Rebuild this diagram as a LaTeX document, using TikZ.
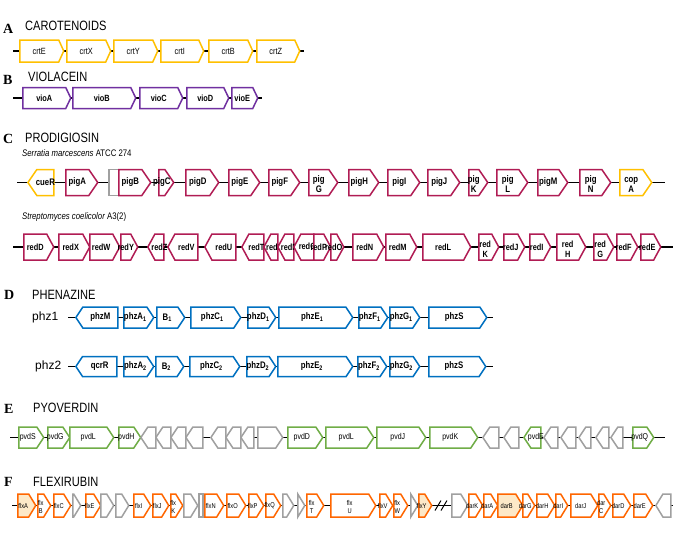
\documentclass[tikz,border=0pt]{standalone}
\usepackage{fontspec}
\setmainfont{Liberation Serif}
\newfontfamily\gsf[FakeStretch=0.82]{Liberation Sans}
\newfontfamily\psf{Liberation Sans}
\usetikzlibrary{shapes.symbols,positioning}

\definecolor{crtyel}{RGB}{255,192,0}
\definecolor{viopur}{RGB}{112,48,160}
\definecolor{pigred}{RGB}{176,28,84}
\definecolor{phzblue}{RGB}{0,112,192}
\definecolor{pvdgreen}{RGB}{112,173,71}
\definecolor{flxorange}{RGB}{255,102,0}
\definecolor{flxfill}{RGB}{253,233,200}
\definecolor{nogene}{RGB}{160,160,160}

\newcommand\twoline[2]{\smash{\begin{tabular}[t]{@{}c@{}}#1\\[0pt]#2\end{tabular}}}

\tikzset{
  gene/.style={signal, signal to=east, draw, fill=white, line width=1.5pt,
               inner sep=0pt, anchor=west,
               execute at begin node={\hbox to 0pt\bgroup\hss},
               execute at end node={\hss\egroup}},
  lft/.style={signal to=west},
  len/.style={minimum width=#1},
  bb/.style={line width=1.9pt, black},
  letter/.style={anchor=west, inner sep=0pt, font=\bfseries\fontsize{14}{16}\selectfont},
  title/.style={anchor=west, inner sep=0pt, font=\gsf\fontsize{13.5}{15}\selectfont},
  sub/.style={anchor=west, inner sep=0pt, font=\gsf\fontsize{9.5}{11}\selectfont}
}

\begin{document}
\begin{tikzpicture}[
    x=1pt, y=-1pt,
    crt/.style={gene, draw=crtyel, minimum height=22, signal pointer angle=131,
                font=\gsf\fontsize{9}{10}\selectfont},
    vio/.style={gene, draw=viopur, minimum height=21, signal pointer angle=129,
                font=\gsf\bfseries\fontsize{9}{10}\selectfont},
    pig/.style={gene, draw=pigred, minimum height=26, signal pointer angle=111,
                font=\gsf\bfseries\fontsize{9.5}{10}\selectfont},
    red/.style={gene, draw=pigred, minimum height=26, signal pointer angle=123,
                font=\gsf\bfseries\fontsize{9}{10}\selectfont},
    phz/.style={gene, draw=phzblue, minimum height=21, signal pointer angle=113,
                font=\gsf\bfseries\fontsize{9.5}{10}\selectfont},
    pvd/.style={gene, draw=pvdgreen, minimum height=21, signal pointer angle=113,
                font=\gsf\fontsize{8.5}{9}\selectfont},
    flx/.style={gene, draw=flxorange, minimum height=23, signal pointer angle=117,
                font=\gsf\fontsize{7}{7.5}\selectfont},
    nc/.style={draw=nogene}
  ]
    \useasboundingbox (0,0) rectangle (685,542);

    % A  carotenoids
    \node[letter] (lA) at (3,29) {A};
    \node[title] (tA) at (25,26) {CAROTENOIDS};
    \coordinate (A0) at (13,51);
    \coordinate (A1) at (304,51);
    \draw[bb] (A0) -- (A1);
    \node[crt, len=44] (crtE) at (19,51) {crtE};
    \node[crt, len=44] (crtX) at (66,51) {crtX};
    \node[crt, len=44] (crtY) at (113,51) {crtY};
    \node[crt, len=43] (crtI) at (160,51) {crtI};
    \node[crt, len=44] (crtB) at (208,51) {crtB};
    \node[crt, len=43] (crtZ) at (256,51) {crtZ};

    % B  violacein
    \node[letter] (lB) at (3,80) {B};
    \node[title] (tB) at (28,77) {VIOLACEIN};
    \coordinate (B0) at (13,98);
    \coordinate (B1) at (262,98);
    \draw[bb] (B0) -- (B1);
    \node[vio, len=48] (vioA) at (22,98) {vioA};
    \node[vio, len=63] (vioB) at (72,98) {vioB};
    \node[vio, len=43] (vioC) at (139,98) {vioC};
    \node[vio, len=42] (vioD) at (186,98) {vioD};
    \node[vio, len=26] (vioE) at (231,98) {vioE};

    % C  prodigiosin
    \node[letter] (lC) at (3,139) {C};
    \node[title] (tC) at (25,138) {PRODIGIOSIN};
    \node[sub] (sC1) at (22,153) {\itshape Serratia marcescens\upshape\ ATCC 274};
    \coordinate (C0) at (17,182.5);
    \coordinate (C1) at (665,182.5);
    \draw[bb] (C0) -- (C1);
    \node[pig, lft, draw=crtyel, len=26] (cueR) at (27,182.5) {cueR};
    \node[pig, len=32] (pigA) at (65,182.5) {pigA};
    \node[pig, nc, rectangle, len=16] (pigX) at (108,182.5) {};
    \node[pig, len=32] (pigB) at (118,182.5) {pigB};
    \node[pig, len=15] (pigC) at (158,182.5) {pigC};
    \node[pig, len=33] (pigD) at (185,182.5) {pigD};
    \node[pig, len=31] (pigE) at (228,182.5) {pigE};
    \node[pig, len=31] (pigF) at (268,182.5) {pigF};
    \node[pig, len=29] (pigG) at (308,182.5) {\twoline{pig}{G}};
    \node[pig, len=30] (pigH) at (348,182.5) {pigH};
    \node[pig, len=32] (pigI) at (387,182.5) {pigI};
    \node[pig, len=32] (pigJ) at (427,182.5) {pigJ};
    \node[pig, len=19] (pigK) at (468,182.5) {\twoline{pig}{K}};
    \node[pig, len=31] (pigL) at (496,182.5) {\twoline{pig}{L}};
    \node[pig, len=30] (pigM) at (537,182.5) {pigM};
    \node[pig, len=31] (pigN) at (579,182.5) {\twoline{pig}{N}};
    \node[pig, draw=crtyel, len=32] (copA) at (619,182.5) {\twoline{cop}{A}};

    \node[sub] (sC2) at (22,217) {\itshape Streptomyces coelicolor\upshape\ A3(2)};
    \coordinate (C2) at (13,247);
    \coordinate (C3) at (673,247);
    \draw[bb] (C2) -- (C3);
    \node[red, len=30] (redD) at (23,247) {redD};
    \node[red, len=31] (redX) at (58,247) {redX};
    \node[red, len=30] (redW) at (89,247) {redW};
    \node[red, len=17] (redY) at (120,247) {redY};
    \node[red, lft, len=16] (redZ) at (147,247) {redZ};
    \node[red, lft, len=30] (redV) at (167,247) {redV};
    \node[red, lft, len=31] (redU) at (204,247) {redU};
    \node[red, lft, len=22] (redT) at (241,247) {redT};
    \node[red, lft, len=14] (redS) at (263,247) {redS};
    \node[red, lft, len=16] (redR) at (277,247) {redR};
    \node[red, lft, len=20] (redQ) at (293,247) {redQ};
    \node[red, len=17] (redP) at (313,247) {redP};
    \node[red, len=13] (redO) at (330,247) {redO};
    \node[red, len=31] (redN) at (352,247) {redN};
    \node[red, len=31] (redM) at (385,247) {redM};
    \node[red, len=48] (redL) at (422,247) {redL};
    \node[red, len=20] (redK) at (478,247) {\twoline{red}{K}};
    \node[red, len=21] (redJ) at (503,247) {redJ};
    \node[red, len=21] (redI) at (529,247) {redI};
    \node[red, len=29] (redH) at (556,247) {\twoline{red}{H}};
    \node[red, len=20] (redG) at (593,247) {\twoline{red}{G}};
    \node[red, len=21] (redF) at (616,247) {redF};
    \node[red, len=20] (redE) at (640,247) {redE};

    % D  phenazine
    \node[letter] (lD) at (4,295) {D};
    \node[title] (tD) at (32,295) {PHENAZINE};
    \node[anchor=west, inner sep=0pt, font=\psf\fontsize{12}{14}\selectfont] (phz1) at (32,317.5) {phz1};
    \coordinate (D0) at (68,317.5);
    \coordinate (D1) at (493,317.5);
    \draw[bb] (D0) -- (D1);
    \node[phz, lft, len=42] (phzM) at (75,317.5) {phzM};
    \node[phz, len=30] (phzA1) at (123,317.5) {phzA\textsubscript{1}};
    \node[phz, len=28] (phzB1) at (156,317.5) {B\textsubscript{1}};
    \node[phz, len=50] (phzC1) at (190,317.5) {phzC\textsubscript{1}};
    \node[phz, len=28] (phzD1) at (247,317.5) {phzD\textsubscript{1}};
    \node[phz, len=74] (phzE1) at (278,317.5) {phzE\textsubscript{1}};
    \node[phz, len=29] (phzF1) at (358,317.5) {phzF\textsubscript{1}};
    \node[phz, len=30] (phzG1) at (389,317.5) {phzG\textsubscript{1}};
    \node[phz, len=58] (phzS1) at (428,317.5) {phzS};

    \node[anchor=west, inner sep=0pt, font=\psf\fontsize{12}{14}\selectfont] (phz2) at (35,366.5) {phz2};
    \coordinate (D2) at (68,366.5);
    \coordinate (D3) at (493,366.5);
    \draw[bb] (D2) -- (D3);
    \node[phz, lft, len=41, minimum height=20] (qcrR) at (75,366.5) {qcrR};
    \node[phz, len=30, minimum height=20] (phzA2) at (123,366.5) {phzA\textsubscript{2}};
    \node[phz, len=28, minimum height=20] (phzB2) at (155,366.5) {B\textsubscript{2}};
    \node[phz, len=50, minimum height=20] (phzC2) at (189,366.5) {phzC\textsubscript{2}};
    \node[phz, len=29, minimum height=20] (phzD2) at (246,366.5) {phzD\textsubscript{2}};
    \node[phz, len=75, minimum height=20] (phzE2) at (277,366.5) {phzE\textsubscript{2}};
    \node[phz, len=29, minimum height=20] (phzF2) at (357,366.5) {phzF\textsubscript{2}};
    \node[phz, len=30, minimum height=20] (phzG2) at (389,366.5) {phzG\textsubscript{2}};
    \node[phz, len=57, minimum height=20] (phzS2) at (428,366.5) {phzS};

    % E  pyoverdin
    \node[letter] (lE) at (4,409) {E};
    \node[title] (tE) at (33,408) {PYOVERDIN};
    \coordinate (E0) at (10,437.5);
    \coordinate (E1) at (665,437.5);
    \draw[bb] (E0) -- (E1);
    \node[pvd, len=25] (pvdS) at (18,437.5) {pvdS};
    \node[pvd, len=22] (pvdG) at (47,437.5) {pvdG};
    \node[pvd, len=44] (pvdLa) at (69,437.5) {pvdL};
    \node[pvd, len=22] (pvdH) at (118,437.5) {pvdH};
    \node[pvd, nc, lft, len=15] (e1) at (140,437.5) {};
    \node[pvd, nc, lft, len=15] (e2) at (155,437.5) {};
    \node[pvd, nc, lft, len=15] (e3) at (170,437.5) {};
    \node[pvd, nc, lft, len=17] (e4) at (185,437.5) {};
    \node[pvd, nc, lft, len=15] (e5) at (210,437.5) {};
    \node[pvd, nc, lft, len=15] (e6) at (225,437.5) {};
    \node[pvd, nc, lft, len=13] (e7) at (240,437.5) {};
    \node[pvd, nc, len=25] (e8) at (257,437.5) {};
    \node[pvd, len=35] (pvdD) at (287,437.5) {pvdD};
    \node[pvd, len=48] (pvdLb) at (325,437.5) {pvdL};
    \node[pvd, len=49] (pvdJ) at (376,437.5) {pvdJ};
    \node[pvd, len=48] (pvdK) at (429,437.5) {pvdK};
    \node[pvd, nc, lft, len=16] (e9) at (482,437.5) {};
    \node[pvd, nc, lft, len=15] (e10) at (503,437.5) {};
    \node[pvd, lft, len=17] (pvdE) at (523,437.5) {pvdE};
    \node[pvd, nc, lft, len=14] (e11) at (543,437.5) {};
    \node[pvd, nc, lft, len=15] (e12) at (560,437.5) {};
    \node[pvd, nc, lft, len=12] (e13) at (578,437.5) {};
    \node[pvd, nc, lft, len=13] (e14) at (595,437.5) {};
    \node[pvd, nc, lft, len=12] (e15) at (610,437.5) {};
    \node[pvd, len=21] (pvdQ) at (632,437.5) {pvdQ};

    % F  flexirubin
    \node[letter] (lF) at (4,482) {F};
    \node[title] (tF) at (33,482) {FLEXIRUBIN};
    \coordinate (F0) at (12,505.5);
    \coordinate (F1) at (673,505.5);
    \draw[bb] (F0) -- (F1);
    \node[flx, fill=flxfill, len=18] (flxA) at (17,505.5) {flxA};
    \node[flx, len=13] (flxB) at (37,505.5) {\twoline{flx}{B}};
    \node[flx, len=17] (flxC) at (53,505.5) {flxC};
    \node[flx, nc, len=8] (f1) at (72,505.5) {};
    \node[flx, len=15] (flxE) at (85,505.5) {flxE};
    \node[flx, nc, len=13] (f2) at (100,505.5) {};
    \node[flx, nc, len=13] (f3) at (115,505.5) {};
    \node[flx, len=17] (flxI) at (133,505.5) {flxI};
    \node[flx, len=16] (flxJ) at (152,505.5) {flxJ};
    \node[flx, len=12] (flxK) at (170,505.5) {\twoline{flx}{K}};
    \node[flx, nc, len=14] (f4) at (183,505.5) {};
    \node[flx, nc, rectangle, len=4] (f5) at (198,505.5) {};
    \node[flx, len=19] (flxN) at (204,505.5) {flxN};
    \node[flx, len=19] (flxO) at (226,505.5) {flxO};
    \node[flx, len=15] (flxP) at (248,505.5) {flxP};
    \node[flx, len=15] (flxQ) at (265,505.5) {flxQ};
    \node[flx, nc, len=11] (f6) at (282,505.5) {};
    \node[flx, nc, len=6] (f7) at (297,505.5) {};
    \node[flx, len=17] (flxT) at (306,505.5) {\twoline{flx}{T}};
    \node[flx, len=45] (flxU) at (330,505.5) {\twoline{flx}{U}};
    \node[flx, len=13] (flxV) at (379,505.5) {flxV};
    \node[flx, len=14] (flxW) at (393,505.5) {\twoline{flx}{W}};
    \node[flx, nc, len=6] (f8) at (410,505.5) {};
    \node[flx, fill=flxfill, len=13] (flxY) at (418,505.5) {flxY};
    \coordinate (brk) at (441,505.5);
    \draw[line width=1pt] (brk) ++(-6,5) -- ++(6,-10) ++(0,10) -- ++(6,-10);
    \node[flx, nc, len=16] (f9) at (451,505.5) {};
    \node[flx, len=14] (darK) at (468,505.5) {darK};
    \node[flx, len=14] (darA) at (483,505.5) {darA};
    \node[flx, fill=flxfill, len=25] (darB) at (497,505.5) {darB};
    \node[flx, len=12] (darG) at (522,505.5) {darG};
    \node[flx, len=18] (darH) at (536,505.5) {darH};
    \node[flx, len=12] (darI) at (555,505.5) {darI};
    \node[flx, len=27] (darJ) at (570,505.5) {darJ};
    \node[flx, len=12] (darC) at (598,505.5) {\twoline{dar}{C}};
    \node[flx, len=18] (darD) at (612,505.5) {darD};
    \node[flx, len=19] (darE) at (633,505.5) {darE};
    \node[flx, nc, lft, len=15] (f10) at (655,505.5) {};
  \end{tikzpicture}
\end{document}
